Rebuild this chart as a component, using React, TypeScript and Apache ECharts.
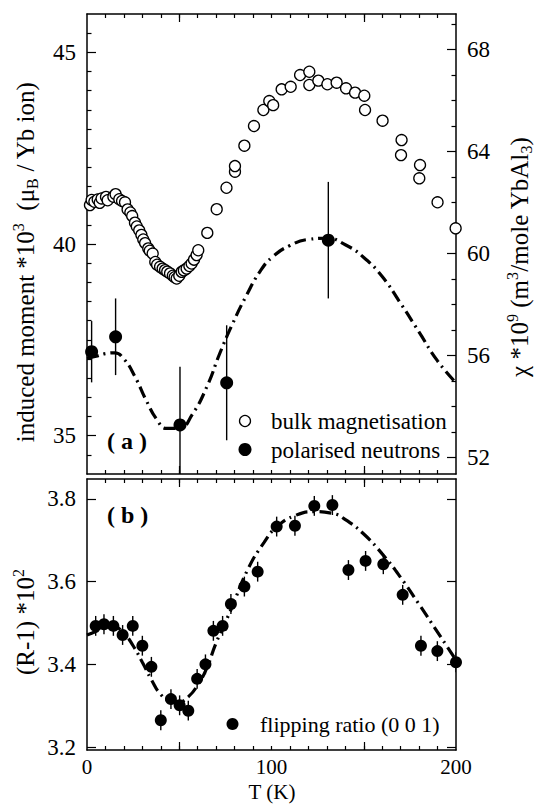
import React, { useEffect, useRef } from "react";
import * as echarts from "echarts";

// ---------- data ----------
// bulk magnetisation (open circles), right axis chi
const bulkT = [1.6, 2.5, 4, 5.8, 6.9, 7.9, 10.3, 11.2, 14.3, 15.5, 17.5, 19, 20.6, 22, 23.5, 24.5, 26, 27, 28.3, 29.5, 30.5, 31.5, 33.2, 34, 35.6, 37, 38, 39.6, 41, 42.3, 43.5, 45, 46.5, 47.5, 48.6, 50, 51.3, 52.5, 54, 55.5, 56.7, 58, 59.4, 60.3, 65.2, 70.3, 75.6, 80.2, 80.2, 85.3, 90.5, 95.6, 98.8, 100.9, 105.5, 110.4, 115.5, 120.5, 120.5, 125.4, 130.3, 135.3, 140.4, 145.3, 150.3, 150.7, 160.2, 170.5, 170.2, 180.5, 180.1, 190, 199.8];
const bulkChi = [61.89, 62.09, 62.02, 62.11, 61.98, 62.15, 62.21, 62.08, 62.22, 62.32, 62.12, 62.05, 62.0, 61.72, 61.6, 61.46, 61.2, 61.05, 60.9, 60.72, 60.54, 60.4, 60.19, 60.1, 59.99, 59.66, 59.55, 59.47, 59.4, 59.34, 59.28, 59.21, 59.12, 59.06, 59.01, 59.12, 59.27, 59.33, 59.4, 59.5, 59.6, 59.75, 59.93, 60.12, 60.8, 61.73, 62.57, 63.2, 63.42, 64.22, 64.99, 65.62, 65.97, 65.81, 66.43, 66.53, 66.99, 67.12, 66.6, 66.77, 66.63, 66.69, 66.47, 66.3, 66.18, 65.62, 65.2, 64.44, 63.85, 63.46, 62.94, 62.0, 60.98];

// polarised neutrons (filled circles with error bars), left axis
const neutronT = [2.5, 15.5, 50.4, 75.7, 130.8];
const neutronM = [37.19, 37.58, 35.28, 36.38, 40.1];
const neutronErr = [0.8, 1.0, 1.52, 1.5, 1.52];

// fit curve, panel (a)
const fitTopT = [0, 5, 10, 15, 20, 26, 32, 38, 43, 50, 57, 65, 72, 79, 86, 94, 101, 110, 120, 130, 140, 150, 160, 170, 180, 190, 200];
const fitTopM = [37.02, 37.07, 37.14, 37.16, 37.0, 36.54, 35.93, 35.41, 35.19, 35.19, 35.55, 36.28, 37.15, 37.93, 38.62, 39.3, 39.68, 39.96, 40.12, 40.15, 39.98, 39.65, 39.15, 38.45, 37.7, 36.95, 36.38];

// flipping ratio (0 0 1), panel (b)
const flipT = [4.7, 9.2, 14.3, 19.3, 24.8, 30, 34.9, 40, 45.5, 50.2, 54.9, 59.7, 64.2, 68.5, 73.5, 78, 85.3, 92.5, 102.8, 112.7, 123.2, 133, 141.7, 151, 160.6, 171.1, 181, 189.9, 200];
const flipR = [3.493, 3.497, 3.493, 3.471, 3.493, 3.445, 3.394, 3.265, 3.316, 3.301, 3.288, 3.365, 3.4, 3.481, 3.493, 3.546, 3.588, 3.624, 3.733, 3.735, 3.783, 3.785, 3.628, 3.65, 3.642, 3.568, 3.445, 3.432, 3.405];
const flipErr = [0.024, 0.024, 0.024, 0.024, 0.024, 0.024, 0.024, 0.024, 0.024, 0.024, 0.024, 0.024, 0.024, 0.024, 0.024, 0.024, 0.024, 0.024, 0.024, 0.024, 0.024, 0.024, 0.024, 0.024, 0.024, 0.024, 0.024, 0.024, 0.024];

// fit curve, panel (b)
const fitBotT = [0, 5, 10, 15, 20, 25, 30, 35, 40, 45, 50, 55, 60, 65, 70, 78, 87, 96, 103, 113, 123, 133, 140, 150, 160, 170, 180, 190, 200];
const fitBotR = [3.471, 3.48, 3.49, 3.49, 3.475, 3.445, 3.405, 3.362, 3.327, 3.312, 3.31, 3.322, 3.35, 3.392, 3.452, 3.532, 3.628, 3.695, 3.733, 3.76, 3.769, 3.765, 3.75, 3.715, 3.667, 3.61, 3.545, 3.478, 3.41];

// axes / ticks
const xLabelValues = [0, 100, 200];
const xLongTicks = [50, 150];
const momentLabels = [35, 40, 45];
const chiLabels = [52, 56, 60, 64, 68];
const ratioLabels = [3.2, 3.4, 3.6, 3.8];
const T_MIN = 0, T_MAX = 200;
const M_MIN = 34, M_MAX = 46;
const CHI_MIN = 51.345, CHI_MAX = 69.384;
const R_MIN = 3.193, R_MAX = 3.848;

const FONT = "Liberation Serif";

const xShortTicks: number[] = [];
for (let v = 10; v < 200; v += 10) xShortTicks.push(v);
const momentMinor: number[] = [];
for (let k = 69; k <= 91; k++) { const v = k / 2; if (momentLabels.indexOf(v) < 0) momentMinor.push(v); }
const chiMinor: number[] = [];
for (let v = 52; v <= 69; v++) if (chiLabels.indexOf(v) < 0) chiMinor.push(v);

export default function App() {
  const ref = useRef<HTMLDivElement>(null);
  useEffect(() => {
    if (!ref.current) return;
    const chart = echarts.init(ref.current, undefined, { renderer: "svg" });

    const line = { color: "#000", width: 1.5 };
    const tickStyle = { color: "#000", width: 1.2 };

    const xAx = (gridIndex: number, position: string, ticks: number[], len: number, showLine: boolean, labels?: boolean) => ({
      type: "value", gridIndex, position, min: T_MIN, max: T_MAX,
      axisLine: { show: showLine, onZero: false, lineStyle: line },
      splitLine: { show: false },
      axisTick: { show: true, inside: true, length: len, lineStyle: tickStyle, customValues: ticks },
      axisLabel: labels
        ? { show: true, customValues: xLabelValues, fontSize: 21, fontFamily: FONT, color: "#000", margin: 6 }
        : { show: false },
    });
    const yAx = (gridIndex: number, position: string, min: number, max: number, ticks: number[], len: number, showLine: boolean, labels?: number[], fmt?: (v: number) => string) => ({
      type: "value", gridIndex, position, min, max,
      axisLine: { show: showLine, onZero: false, lineStyle: line },
      splitLine: { show: false },
      axisTick: { show: true, inside: true, length: len, lineStyle: tickStyle, customValues: ticks },
      axisLabel: labels
        ? { show: true, customValues: labels, fontSize: 23, fontFamily: FONT, color: "#000", margin: 11, formatter: fmt }
        : { show: false },
    });

    const errRender = (params: any, api: any) => {
      const x = api.value(0), lo = api.value(1), hi = api.value(2);
      const p1 = api.coord([x, lo]);
      const p2 = api.coord([x, hi]);
      const cs = params.coordSys;
      const top = cs.y, bot = cs.y + cs.height;
      const y1 = Math.min(Math.max(p1[1], top), bot);
      const y2 = Math.min(Math.max(p2[1], top), bot);
      return { type: "line", shape: { x1: p1[0], y1, x2: p2[0], y2 }, style: { stroke: "#000", lineWidth: 1.4 } };
    };

    const dash = [12, 5, 2, 5];

    const rich = {
      n: { fontSize: 25, fontFamily: FONT, lineHeight: 30, fill: "#000" },
      sp: { fontSize: 16, fontFamily: FONT, lineHeight: 16, verticalAlign: "top", fill: "#000" },
      sb: { fontSize: 16, fontFamily: FONT, lineHeight: 16, verticalAlign: "bottom", fill: "#000" },
    };

    const option: any = {
      animation: false,
      backgroundColor: "#fff",
      textStyle: { fontFamily: FONT, color: "#000" },
      grid: [
        { left: 87, top: 14, width: 369, height: 460 },
        { left: 87, top: 479, width: 369, height: 271 },
      ],
      xAxis: [
        xAx(0, "bottom", xShortTicks, 4, true),
        xAx(0, "top", xShortTicks, 4, true),
        xAx(0, "bottom", xLongTicks, 8, false),
        xAx(0, "top", xLongTicks, 8, false),
        xAx(1, "bottom", xShortTicks, 4, true, true),
        xAx(1, "top", xShortTicks, 4, true),
        xAx(1, "bottom", xLongTicks, 8, false),
        xAx(1, "top", xLongTicks, 8, false),
      ],
      yAxis: [
        yAx(0, "left", M_MIN, M_MAX, momentLabels, 9, true, momentLabels),
        yAx(0, "left", M_MIN, M_MAX, momentMinor, 4.5, false),
        yAx(0, "right", CHI_MIN, CHI_MAX, chiLabels, 9, true, chiLabels),
        yAx(0, "right", CHI_MIN, CHI_MAX, chiMinor, 4.5, false),
        yAx(1, "left", R_MIN, R_MAX, ratioLabels, 9, true, ratioLabels, (v: number) => v.toFixed(1)),
        yAx(1, "right", R_MIN, R_MAX, ratioLabels, 9, true),
      ],
      series: [
        {
          type: "line", xAxisIndex: 0, yAxisIndex: 0, smooth: true, showSymbol: false, symbol: "none",
          data: fitTopT.map((t, i) => [t, fitTopM[i]]),
          lineStyle: { color: "#000", width: 3.2, type: dash }, z: 2,
        },
        {
          type: "scatter", xAxisIndex: 0, yAxisIndex: 2, symbol: "circle", symbolSize: 11,
          data: bulkT.map((t, i) => [t, bulkChi[i]]),
          itemStyle: { color: "#fff", borderColor: "#000", borderWidth: 1.3, opacity: 1 }, z: 3,
        },
        {
          type: "custom", xAxisIndex: 0, yAxisIndex: 0, renderItem: errRender, clip: true,
          encode: { x: 0, y: [1, 2] },
          data: neutronT.map((t, i) => [t, neutronM[i] - neutronErr[i], neutronM[i] + neutronErr[i]]), z: 3,
        },
        {
          type: "scatter", xAxisIndex: 0, yAxisIndex: 0, symbol: "circle", symbolSize: 13,
          data: neutronT.map((t, i) => [t, neutronM[i]]),
          itemStyle: { color: "#000", opacity: 1 }, z: 4,
        },
        {
          type: "line", xAxisIndex: 4, yAxisIndex: 4, smooth: true, showSymbol: false, symbol: "none",
          data: fitBotT.map((t, i) => [t, fitBotR[i]]),
          lineStyle: { color: "#000", width: 3.2, type: dash }, z: 2,
        },
        {
          type: "custom", xAxisIndex: 4, yAxisIndex: 4, renderItem: errRender, clip: true,
          encode: { x: 0, y: [1, 2] },
          data: flipT.map((t, i) => [t, flipR[i] - flipErr[i], flipR[i] + flipErr[i]]), z: 3,
        },
        {
          type: "scatter", xAxisIndex: 4, yAxisIndex: 4, symbol: "circle", symbolSize: 12,
          data: flipT.map((t, i) => [t, flipR[i]]),
          itemStyle: { color: "#000", opacity: 1 }, z: 4,
        },
      ],
      graphic: [
        {
          type: "text", x: 25, y: 262, rotation: Math.PI / 2,
          style: { text: "{n|induced moment *10}{sp|3}{n|  (μ}{sb|B}{n| / Yb ion)}", rich, align: "center", verticalAlign: "middle" },
        },
        {
          type: "text", x: 519, y: 257, rotation: Math.PI / 2,
          style: { text: "{n|χ *10}{sp|9}{n| (m}{sp|3}{n|/mole YbAl}{sb|3}{n|)}", rich, align: "center", verticalAlign: "middle" },
        },
        {
          type: "text", x: 25, y: 622, rotation: Math.PI / 2,
          style: { text: "{n|(R-1) *10}{sp|2}", rich, align: "center", verticalAlign: "middle" },
        },
        {
          type: "text", x: 272, y: 792,
          style: { text: "T (K)", fontSize: 21, fontFamily: FONT, fill: "#000", align: "center", verticalAlign: "middle" },
        },
        {
          type: "text", x: 107, y: 441,
          style: { text: "( a )", fontSize: 24, fontWeight: "bold", fontFamily: FONT, fill: "#000", align: "left", verticalAlign: "middle" },
        },
        {
          type: "text", x: 107, y: 515,
          style: { text: "( b )", fontSize: 24, fontWeight: "bold", fontFamily: FONT, fill: "#000", align: "left", verticalAlign: "middle" },
        },
        { type: "circle", shape: { cx: 245, cy: 421, r: 5.5 }, style: { fill: "#fff", stroke: "#000", lineWidth: 1.3 } },
        {
          type: "text", x: 271, y: 421,
          style: { text: "bulk magnetisation", fontSize: 23, fontFamily: FONT, fill: "#000", align: "left", verticalAlign: "middle" },
        },
        { type: "circle", shape: { cx: 245, cy: 449.5, r: 6.5 }, style: { fill: "#000" } },
        {
          type: "text", x: 271, y: 450,
          style: { text: "polarised neutrons", fontSize: 23, fontFamily: FONT, fill: "#000", align: "left", verticalAlign: "middle" },
        },
        { type: "circle", shape: { cx: 232.5, cy: 724, r: 6 }, style: { fill: "#000" } },
        {
          type: "text", x: 260, y: 724,
          style: { text: "flipping ratio (0 0 1)", fontSize: 22, fontFamily: FONT, fill: "#000", align: "left", verticalAlign: "middle" },
        },
      ],
    };

    chart.setOption(option);
    return () => chart.dispose();
  }, []);

  return <div ref={ref} style={{ position: "fixed", left: 0, top: 0, width: 537, height: 804, background: "#fff" }} />;
}
